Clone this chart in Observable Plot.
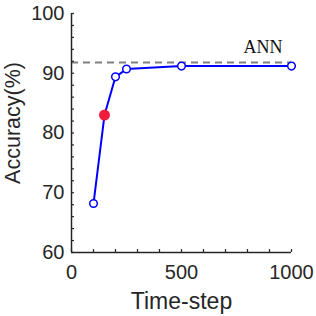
<!DOCTYPE html>
<html><head><meta charset="utf-8">
<script src="https://cdn.jsdelivr.net/npm/d3@7"></script>
<script src="https://cdn.jsdelivr.net/npm/@observablehq/plot@0.6"></script>
<style>html,body{margin:0;padding:0;background:#fff} svg{display:block}</style>
</head><body><div id="chart"></div>
<script>
const timeSteps = [100, 150, 200, 250, 500, 1000];
const accuracy = [68.2, 83.0, 89.4, 90.7, 91.2, 91.2];
const highlightIndex = [1];
const annAccuracy = [91.8];
const annLabel = ["ANN"];
const xLabel = ["Time-step"];
const yLabel = ["Accuracy(%)"];
const xTicks = [0, 500, 1000];
const xMinorTicks = [0, 100, 200, 300, 400, 500, 600, 700, 800, 900, 1000];
const yTicks = [60, 70, 80, 90, 100];
const yMinorTicks = [60, 62, 64, 66, 68, 70, 72, 74, 76, 78, 80, 82, 84, 86, 88, 90, 92, 94, 96, 98, 100];

const data = timeSteps.map((t, i) => ({t, acc: accuracy[i]}));
const highlighted = data.filter((d, i) => highlightIndex.includes(i));
const openPts = data.filter((d, i) => !highlightIndex.includes(i));

const axisColor = "#262626";
const sans = "'Liberation Sans', Arial, Helvetica, sans-serif";

const chart = Plot.plot({
  width: 316, height: 316,
  marginLeft: 71, marginRight: 25, marginTop: 13, marginBottom: 64,
  style: {fontFamily: sans, fontSize: "20px", color: axisColor, background: "white"},
  x: {domain: [0, 1000]},
  y: {domain: [60, 100]},
  marks: [
    Plot.ruleY(annAccuracy, {stroke: "#808080", strokeWidth: 2, strokeDasharray: "7,5"}),
    Plot.text(annLabel, {x: [1000], y: annAccuracy, textAnchor: "end", lineAnchor: "bottom", dx: -9, dy: -9,
      fontFamily: "'Liberation Serif', 'Times New Roman', serif", fontSize: 18, fill: "#111"}),
    Plot.ruleX([0], {stroke: axisColor, strokeWidth: 1.5}),
    Plot.ruleY([60], {stroke: axisColor, strokeWidth: 1.5}),
    Plot.axisX(xMinorTicks, {tickSize: 3, dy: -3, tickFormat: () => "", label: null, stroke: axisColor, strokeWidth: 1.2}),
    Plot.axisY(yMinorTicks, {tickSize: 3, dx: 3, tickFormat: () => "", label: null, stroke: axisColor, strokeWidth: 1.2}),
    Plot.axisX(xTicks, {tickSize: 0, tickPadding: 12, label: null, fontSize: 20, fill: axisColor, tickFormat: d => String(d)}),
    Plot.axisY(yTicks, {tickSize: 0, tickPadding: 7, label: null, fontSize: 20, fill: axisColor, tickFormat: d => String(d)}),
    Plot.text(xLabel, {frameAnchor: "bottom", lineAnchor: "bottom", dy: 56, fontSize: 23, fill: axisColor}),
    Plot.text(yLabel, {frameAnchor: "left", textAnchor: "middle", lineAnchor: "top", rotate: -90, dx: -67, dy: -10, fontSize: 21.5, fill: axisColor}),
    Plot.line(data, {x: "t", y: "acc", stroke: "#0000ff", strokeWidth: 2}),
    Plot.dot(openPts, {x: "t", y: "acc", r: 3.8, stroke: "#0000ff", strokeWidth: 1.5, fill: "white"}),
    Plot.dot(highlighted, {x: "t", y: "acc", r: 5.5, fill: "#f01e3c", stroke: "none"})
  ]
});
document.getElementById("chart").appendChild(chart);
</script>
</body></html>
